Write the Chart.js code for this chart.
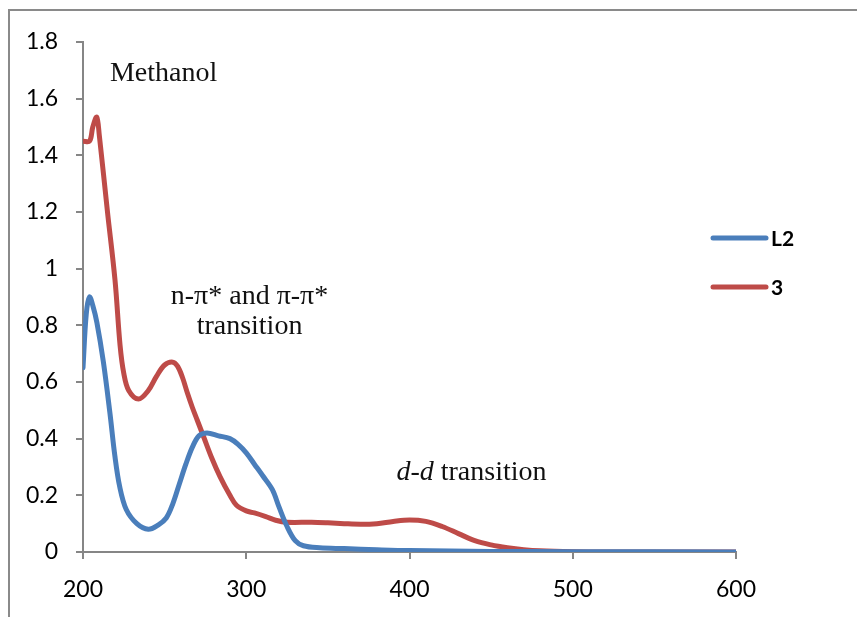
<!DOCTYPE html>
<html>
<head>
<meta charset="utf-8">
<script src="https://cdn.jsdelivr.net/npm/chart.js@4.4.0/dist/chart.umd.min.js"></script>
<style>
  html, body { margin: 0; padding: 0; background: #fff; overflow: hidden; }
  #wrap { position: relative; width: 857px; height: 617px; }
  #frame {
    position: absolute; left: 8px; top: 9px; width: 900px; height: 700px;
    border-left: 2px solid #8a8a8a; border-top: 2px solid #8a8a8a;
  }
  canvas { position: absolute; left: 0; top: 0; }
</style>
</head>
<body>
<div id="wrap">
  <div id="frame"></div>
  <canvas id="chart" width="857" height="617"></canvas>
</div>
<script>
// wavelength (nm) and absorbance
const xL2 = [200, 202, 204, 206, 208.5, 212.5, 216.5, 219.5, 222.5, 226.5, 233, 240, 246, 251, 255, 259, 263, 267, 271, 276, 283, 290, 295, 300, 305, 310, 316, 320, 325, 330, 335, 345, 360, 380, 400, 450, 500, 600];
const yL2 = [0.65, 0.84, 0.90, 0.87, 0.81, 0.67, 0.49, 0.34, 0.23, 0.15, 0.10, 0.08, 0.095, 0.12, 0.17, 0.24, 0.31, 0.37, 0.41, 0.42, 0.41, 0.40, 0.38, 0.35, 0.31, 0.27, 0.22, 0.16, 0.09, 0.04, 0.022, 0.015, 0.012, 0.008, 0.005, 0.002, 0.001, 0];

const x3 = [200, 204, 206, 208.4, 210, 215, 219.6, 222.7, 225, 228, 234, 240, 245, 250, 255, 258, 261, 264, 267, 270, 274, 279, 284, 290, 294, 300, 305, 312, 318, 325, 340, 350, 360, 370, 380, 390, 400, 410, 420, 430, 440, 450, 460, 470, 480, 500, 520, 600];
const y3 = [1.45, 1.45, 1.50, 1.535, 1.47, 1.20, 0.96, 0.73, 0.63, 0.57, 0.54, 0.57, 0.62, 0.66, 0.67, 0.655, 0.615, 0.56, 0.51, 0.465, 0.405, 0.33, 0.265, 0.20, 0.165, 0.145, 0.138, 0.125, 0.112, 0.105, 0.105, 0.103, 0.10, 0.098, 0.10, 0.108, 0.113, 0.108, 0.09, 0.065, 0.04, 0.025, 0.015, 0.008, 0.004, 0.001, 0, 0];

const seriesNames = ['L2', '3'];
const seriesColors = ['#4a7ebb', '#be4b48'];
const xTicks = [200, 300, 400, 500, 600];
const yTicks = [0, 0.2, 0.4, 0.6, 0.8, 1, 1.2, 1.4, 1.6, 1.8];

const toPoints = (xs, ys) => xs.map((x, i) => ({ x, y: ys[i] }));

const axisColor = '#868686';
const tickFont = { family: 'Lato, "Open Sans", sans-serif', size: 23 };

// text labels inside the plot and the legend on the right
const notesPlugin = {
  id: 'notes',
  afterDraw(chart) {
    const { ctx, scales } = chart;
    const px = (v) => scales.x.getPixelForValue(v);
    const py = (v) => scales.y.getPixelForValue(v);
    ctx.save();
    ctx.fillStyle = '#111';
    ctx.textBaseline = 'alphabetic';
    const serif = '"Liberation Serif", "DejaVu Serif", serif';

    ctx.font = '28px ' + serif;
    ctx.textAlign = 'left';
    ctx.fillText('Methanol', px(216.5), py(1.662));

    ctx.textAlign = 'center';
    ctx.fillText('n-\u03c0* and \u03c0-\u03c0*', px(302), py(0.877));
    ctx.fillText('transition', px(302), py(0.770));

    ctx.textAlign = 'left';
    ctx.font = 'italic 28px ' + serif;
    const dd = 'd-d';
    const x0 = px(392);
    const yb = py(0.254);
    ctx.fillText(dd, x0, yb);
    const w = ctx.measureText(dd + ' ').width;
    ctx.font = '28px ' + serif;
    ctx.fillText('transition', x0 + w, yb);

    // legend
    ctx.font = 'bold 21px Lato, "Open Sans", sans-serif';
    ctx.textBaseline = 'middle';
    ctx.lineCap = 'round';
    ctx.lineWidth = 5;
    const legY = [238, 287];
    seriesNames.forEach((name, i) => {
      ctx.strokeStyle = seriesColors[i];
      ctx.beginPath();
      ctx.moveTo(713, legY[i]);
      ctx.lineTo(766, legY[i]);
      ctx.stroke();
      ctx.fillStyle = '#000';
      ctx.fillText(name, 771, legY[i] + 1);
    });
    ctx.restore();
  }
};

new Chart(document.getElementById('chart'), {
  type: 'line',
  data: {
    datasets: [
      {
        label: seriesNames[0],
        data: toPoints(xL2, yL2),
        borderColor: seriesColors[0],
        borderWidth: 5,
        pointRadius: 0,
        tension: 0.35,
        borderCapStyle: 'round',
        borderJoinStyle: 'round'
      },
      {
        label: seriesNames[1],
        data: toPoints(x3, y3),
        borderColor: seriesColors[1],
        borderWidth: 5,
        pointRadius: 0,
        tension: 0.35,
        borderCapStyle: 'round',
        borderJoinStyle: 'round'
      }
    ]
  },
  options: {
    responsive: false,
    animation: false,
    layout: { padding: { left: 0, right: 121, top: 42, bottom: 0 } },
    plugins: {
      legend: { display: false },
      tooltip: { enabled: false }
    },
    scales: {
      x: {
        type: 'linear',
        min: 200,
        max: 600,
        afterBuildTicks: (s) => { s.ticks = xTicks.map((v) => ({ value: v })); },
        afterFit: (s) => { s.height = 65; },
        border: { color: axisColor, width: 2 },
        grid: { display: true, drawOnChartArea: false, color: axisColor, lineWidth: 2, tickLength: 7 },
        ticks: { color: '#000', font: tickFont, padding: 17, maxRotation: 0, callback: (v) => String(v) }
      },
      y: {
        min: 0,
        max: 1.8,
        afterBuildTicks: (s) => { s.ticks = yTicks.map((v) => ({ value: v })); },
        afterFit: (s) => { s.width = 83; },
        border: { color: axisColor, width: 2 },
        grid: { display: true, drawOnChartArea: false, color: axisColor, lineWidth: 2, tickLength: 7 },
        ticks: { color: '#000', font: tickFont, padding: 18, callback: (v) => String(Math.round(v * 10) / 10) }
      }
    }
  },
  plugins: [notesPlugin]
});
</script>
</body>
</html>
